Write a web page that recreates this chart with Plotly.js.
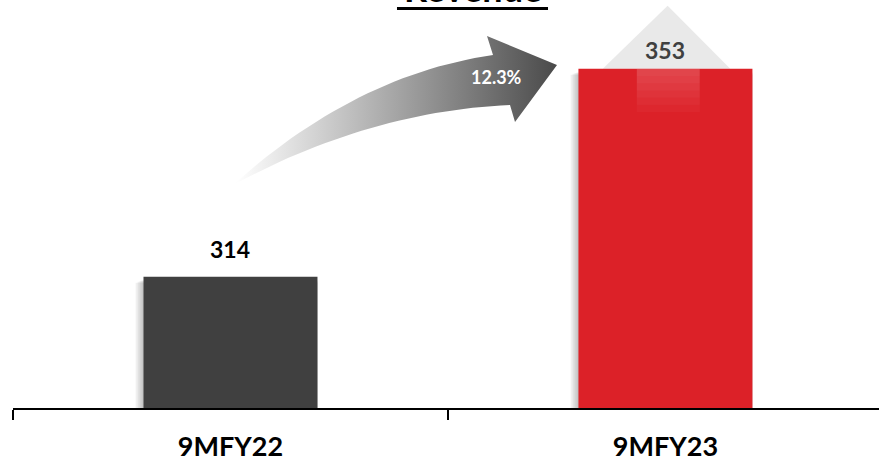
<!DOCTYPE html>
<html>
<head>
<meta charset="utf-8">
<script src="https://cdn.plot.ly/plotly-3.0.1.min.js"></script>
<style>
  html, body { margin: 0; padding: 0; background: #ffffff; overflow: hidden; }
  #chart { width: 879px; height: 463px; }
</style>
</head>
<body>
<div id="chart"></div>
<script>
// Revenue, nine months of FY22 vs FY23
const categories = ['9MFY22', '9MFY23'];
const revenue = [314, 353];
const growthLabel = '12.3%';
const titleText = 'Revenue';

const barColors = ['#404040', '#dc2128'];
const labelColors = ['#000000', '#404040'];

// value axis is cropped so the difference between the two bars stands out
const yMin = 289.4, yMax = 365.9;
const barWidth = 0.4;
const FONT = 'Lato, "Open Sans", sans-serif';

const shapes = [];

// soft drop shadow on the left side of each bar
revenue.forEach(function (v, i) {
  for (let k = 1; k <= 4; k++) {
    shapes.push({
      type: 'rect', layer: 'below', xref: 'x', yref: 'y',
      x0: i - barWidth / 2 - k * 0.0045, x1: i + barWidth / 2,
      y0: yMin - 5, y1: v - 0.5 - k * 0.15,
      line: { width: 0 }, fillcolor: 'rgba(0,0,0,0.06)'
    });
  }
});

// light grey roof above the latest bar, holding its value
const last = revenue.length - 1;
const roofHalf = 0.144, roofRise = 11.8;
shapes.push({
  type: 'path', layer: 'below', xref: 'x', yref: 'y',
  path: 'M ' + (last - roofHalf) + ',' + revenue[last] +
        ' L ' + (last + 0.005) + ',' + (revenue[last] + roofRise) +
        ' L ' + (last + roofHalf + 0.005) + ',' + revenue[last] + ' Z',
  line: { width: 0 }, fillcolor: '#e9e9e9'
});

// glossy strip fading down from the top of the latest bar
for (let k = 1; k <= 6; k++) {
  shapes.push({
    type: 'rect', layer: 'above', xref: 'x', yref: 'y',
    x0: last - 0.066, x1: last + 0.079,
    y0: revenue[last] - k * 1.35, y1: revenue[last],
    line: { width: 0 }, fillcolor: 'rgba(255,255,255,0.03)'
  });
}

// underline of the heading
shapes.push({
  type: 'line', xref: 'paper', yref: 'paper',
  x0: 0.4434, x1: 0.6178, y0: 0.979, y1: 0.979,
  line: { color: '#000000', width: 3 }
});

// curved growth arrow, drawn on an overlay canvas axis pair
function quad(p0, c, p2, n) {
  const xs = [], ys = [];
  for (let j = 0; j <= n; j++) {
    const t = j / n, u = 1 - t;
    xs.push(u * u * p0[0] + 2 * u * t * c[0] + t * t * p2[0]);
    ys.push(u * u * p0[1] + 2 * u * t * c[1] + t * t * p2[1]);
  }
  return [xs, ys];
}
const tail = [233, 185];
const upper = quad(tail, [355, 75], [493, 55], 30);
const lower = quad([510, 105], [370, 111], tail, 30);
const head = { x: [487, 557, 515], y: [36, 65, 122] };
const arrowX = upper[0].concat(head.x, lower[0]);
const arrowY = upper[1].concat(head.y, lower[1]);

const data = [
  {
    type: 'bar',
    x: categories,
    y: revenue,
    width: barWidth,
    marker: { color: barColors, line: { width: 0 } },
    hoverinfo: 'skip'
  },
  {
    type: 'scatter', mode: 'lines',
    x: arrowX, y: arrowY,
    xaxis: 'x2', yaxis: 'y2',
    fill: 'toself',
    line: { width: 0, color: 'rgba(0,0,0,0)' },
    fillcolor: '#808080',
    fillgradient: {
      type: 'horizontal',
      start: 236, stop: 557,
      colorscale: [[0, 'rgba(255,255,255,1)'], [0.35, '#c0c0c0'], [1, '#4a4a4a']]
    },
    hoverinfo: 'skip'
  }
];

const annotations = revenue.map(function (v, i) {
  return {
    xref: 'x', yref: 'y', x: categories[i], y: v,
    text: '<b>' + v + '</b>', showarrow: false,
    xanchor: 'center', yanchor: 'bottom',
    yshift: i === last ? 3 : 12,
    font: { family: FONT, size: 23, color: labelColors[i] }
  };
});
annotations.push({
  xref: 'x2', yref: 'y2', x: 496, y: 77,
  text: '<b>' + growthLabel + '</b>', showarrow: false,
  xanchor: 'center', yanchor: 'middle',
  font: { family: FONT, size: 18, color: '#ffffff' }
});
annotations.push({
  xref: 'paper', yref: 'paper', x: 0.531, y: 1,
  text: '<b>' + titleText + '</b>', showarrow: false,
  xanchor: 'center', yanchor: 'bottom', yshift: -12,
  font: { family: FONT, size: 36, color: '#000000' }
});

const layout = {
  width: 879, height: 463,
  margin: { l: 13, r: 0, t: 0, b: 55, pad: 0 },
  paper_bgcolor: '#ffffff', plot_bgcolor: '#ffffff',
  showlegend: false,
  bargap: 0.6,
  xaxis: {
    type: 'category',
    range: [-0.5, 1.491],
    showline: true, linecolor: '#000000', linewidth: 2,
    ticks: 'outside', tickson: 'boundaries', ticklen: 10, tickwidth: 2, tickcolor: '#000000',
    ticklabelstandoff: 14,
    tickfont: { family: FONT, size: 27, color: '#000000', weight: 700 },
    showgrid: false, zeroline: false, fixedrange: true
  },
  yaxis: {
    range: [yMin, yMax],
    visible: false, showgrid: false, zeroline: false, fixedrange: true
  },
  xaxis2: { overlaying: 'x', anchor: 'y2', range: [13, 879], visible: false, fixedrange: true },
  yaxis2: { overlaying: 'y', anchor: 'x2', range: [408, 0], visible: false, fixedrange: true },
  shapes: shapes,
  annotations: annotations
};

Plotly.newPlot('chart', data, layout, { staticPlot: true, displayModeBar: false });
</script>
</body>
</html>
